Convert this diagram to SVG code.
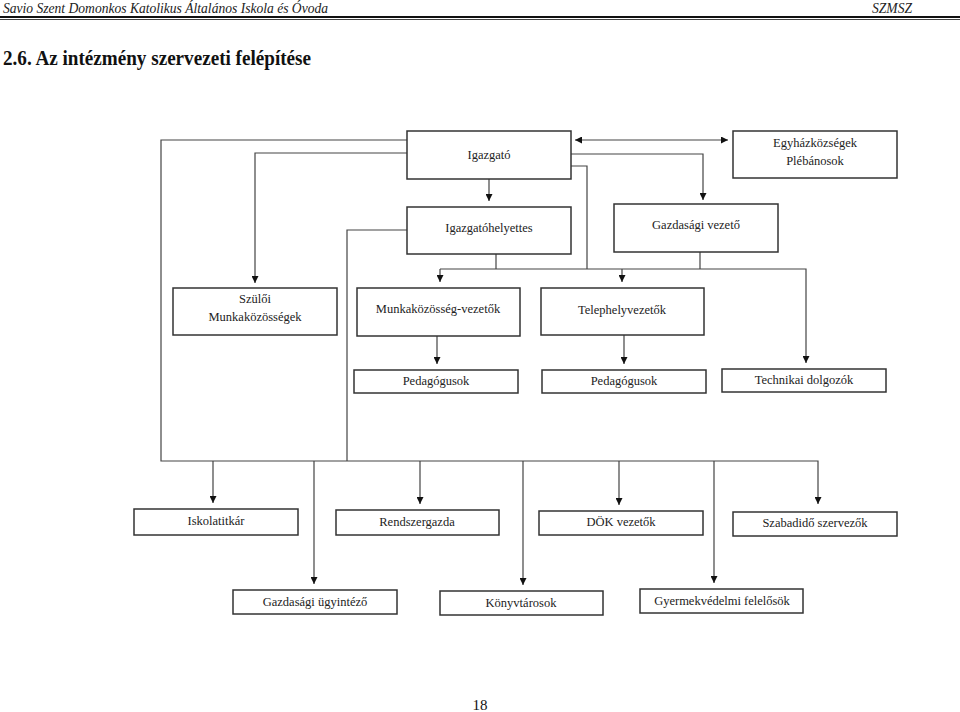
<svg xmlns="http://www.w3.org/2000/svg" width="960" height="712" viewBox="0 0 960 712">
<defs>
<marker id="arr" markerUnits="userSpaceOnUse" markerWidth="7" markerHeight="7" refX="7" refY="3.5" orient="auto">
<path d="M0,0 L7,3.5 L0,7 z" fill="#111"/>
</marker>
<marker id="arrs" markerUnits="userSpaceOnUse" markerWidth="7" markerHeight="7" refX="0" refY="3.5" orient="auto">
<path d="M7,0 L0,3.5 L7,7 z" fill="#111"/>
</marker>
<style>
.box{fill:#fff;stroke:#333;stroke-width:1.5}
.lbl{font-family:"Liberation Serif","Times New Roman",serif;font-size:12.5px;fill:#222;text-anchor:middle}
.c{fill:none;stroke:#444;stroke-width:1.2}
.hd{font-family:"Liberation Serif","Times New Roman",serif;font-style:italic;font-size:14px;fill:#222}
</style>
</defs>
<rect width="960" height="712" fill="#fff"/>
<text class="hd" x="3" y="13" textLength="325" lengthAdjust="spacingAndGlyphs">Savio Szent Domonkos Katolikus Általános Iskola és Óvoda</text>
<text class="hd" x="872" y="13" textLength="40" lengthAdjust="spacingAndGlyphs">SZMSZ</text>
<line x1="0" y1="17" x2="960" y2="17" stroke="#111" stroke-width="2"/>
<line x1="0" y1="19.5" x2="960" y2="19.5" stroke="#111" stroke-width="0.8"/>
<text x="3" y="65" font-family="Liberation Serif, Times New Roman, serif" font-weight="bold" font-size="21" fill="#111" textLength="308" lengthAdjust="spacingAndGlyphs">2.6. Az intézmény szervezeti felépítése</text>

<g id="connectors">
<path class="c" d="M407,140 H161 V461 H818 V504" marker-end="url(#arr)"/>
<path class="c" d="M213,461 V503" marker-end="url(#arr)"/>
<path class="c" d="M420,461 V504" marker-end="url(#arr)"/>
<path class="c" d="M619,461 V505" marker-end="url(#arr)"/>
<path class="c" d="M314,461 V584" marker-end="url(#arr)"/>
<path class="c" d="M523,461 V585" marker-end="url(#arr)"/>
<path class="c" d="M714,461 V583" marker-end="url(#arr)"/>
<path class="c" d="M407,153 H255 V283" marker-end="url(#arr)"/>
<path class="c" d="M489,179 V201" marker-end="url(#arr)"/>
<path class="c" d="M407,230 H347 V461"/>
<path class="c" d="M575,140 H728" marker-start="url(#arrs)" marker-end="url(#arr)"/>
<path class="c" d="M571,154 H703 V200" marker-end="url(#arr)"/>
<path class="c" d="M571,166 H587 V269"/>
<path class="c" d="M700,252 V269"/>
<path class="c" d="M496,254 V269"/>
<path class="c" d="M440,269 H806 V363" marker-end="url(#arr)"/>
<path class="c" d="M440,269 V282" marker-end="url(#arr)"/>
<path class="c" d="M622,269 V282" marker-end="url(#arr)"/>
<path class="c" d="M437,336 V364" marker-end="url(#arr)"/>
<path class="c" d="M624,335 V364" marker-end="url(#arr)"/>
</g>

<g id="igazgato"><rect class="box" x="407" y="131" width="164" height="48"/><text class="lbl" x="489" y="159">Igazgató</text></g>
<g id="egyhazkozsegek"><rect class="box" x="733" y="131" width="164" height="47"/><text class="lbl" x="815" y="147">Egyházközségek</text><text class="lbl" x="815" y="165">Plébánosok</text></g>
<g id="igazgatohelyettes"><rect class="box" x="407" y="207" width="164" height="47"/><text class="lbl" x="489" y="232">Igazgatóhelyettes</text></g>
<g id="gazdasagi-vezeto"><rect class="box" x="614" y="204" width="164" height="48"/><text class="lbl" x="696" y="229">Gazdasági vezető</text></g>
<g id="szuloi"><rect class="box" x="173" y="288" width="164" height="47"/><text class="lbl" x="255" y="303">Szülői</text><text class="lbl" x="255" y="321">Munkaközösségek</text></g>
<g id="munkakozosseg-vezetok"><rect class="box" x="357" y="288" width="163" height="48"/><text class="lbl" x="438" y="313">Munkaközösség-vezetők</text></g>
<g id="telephelyvezetok"><rect class="box" x="541" y="288" width="163" height="47"/><text class="lbl" x="622" y="314">Telephelyvezetők</text></g>
<g id="pedagogusok1"><rect class="box" x="354" y="370" width="164" height="23"/><text class="lbl" x="436" y="385">Pedagógusok</text></g>
<g id="pedagogusok2"><rect class="box" x="542" y="370" width="164" height="23"/><text class="lbl" x="624" y="385">Pedagógusok</text></g>
<g id="technikai"><rect class="box" x="722" y="369" width="164" height="23"/><text class="lbl" x="804" y="384">Technikai dolgozók</text></g>
<g id="iskolatitkar"><rect class="box" x="134" y="509" width="164" height="26"/><text class="lbl" x="216" y="525">Iskolatitkár</text></g>
<g id="rendszergazda"><rect class="box" x="336" y="510" width="163" height="25"/><text class="lbl" x="417" y="526">Rendszergazda</text></g>
<g id="dok"><rect class="box" x="539" y="511" width="164" height="24"/><text class="lbl" x="621" y="526">DÖK vezetők</text></g>
<g id="szabadido"><rect class="box" x="733" y="512" width="164" height="24"/><text class="lbl" x="815" y="527">Szabadidő szervezők</text></g>
<g id="gazdasagi-ugyintezo"><rect class="box" x="233" y="590" width="164" height="24"/><text class="lbl" x="315" y="606">Gazdasági ügyintéző</text></g>
<g id="konyvtarosok"><rect class="box" x="440" y="591" width="163" height="24"/><text class="lbl" x="521" y="607">Könyvtárosok</text></g>
<g id="gyermekvedelmi"><rect class="box" x="640" y="589" width="163" height="24"/><text class="lbl" x="722" y="605">Gyermekvédelmi felelősök</text></g>

<text x="480" y="710" font-family="Liberation Serif, Times New Roman, serif" font-size="15" fill="#111" text-anchor="middle">18</text>
</svg>
